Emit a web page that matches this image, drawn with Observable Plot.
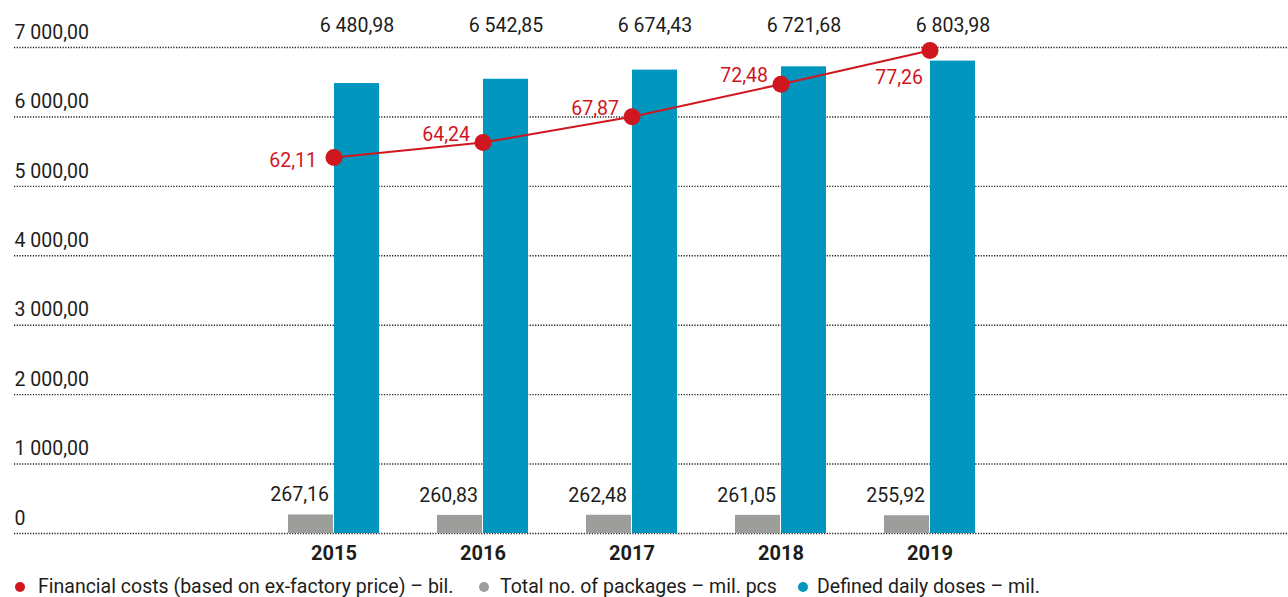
<!DOCTYPE html>
<html>
<head>
<meta charset="utf-8">
<script src="https://cdn.jsdelivr.net/npm/d3@7"></script>
<script src="https://cdn.jsdelivr.net/npm/@observablehq/plot@0.6"></script>
<style>
  html, body { margin: 0; padding: 0; background: #fff; }
  body { width: 1288px; height: 597px; overflow: hidden; font-family: Roboto, "Noto Sans", sans-serif; color: #1d1d1b; }
  #chart svg { display: block; }
  #legend { position: relative; height: 25px; margin-top: 2px; font-size: 19.5px; white-space: nowrap; }
  #legend .item { position: absolute; top: 0; height: 25px; display: flex; align-items: center; }
  #legend .sw { position: absolute; width: 10px; height: 10px; border-radius: 50%; top: 8px; }
</style>
</head>
<body>
<div id="chart"></div>
<div id="legend"></div>
<script>
// ---- data ----
const years = ["2015", "2016", "2017", "2018", "2019"];
const dailyDoses = [6480.98, 6542.85, 6674.43, 6721.68, 6803.98];   // mil.
const packages = [267.16, 260.83, 262.48, 261.05, 255.92];          // mil. pcs
const costs = [62.11, 64.24, 67.87, 72.48, 77.26];                  // bil.
const yTicks = [0, 1000, 2000, 3000, 4000, 5000, 6000, 7000];
// secondary (cost) axis domain that corresponds to the primary domain [0, 7000]
const costDomain = [8.98, 77.67];
const seriesNames = [
  "Financial costs (based on ex-factory price) – bil.",
  "Total no. of packages – mil. pcs",
  "Defined daily doses – mil."
];

const RED = "#d0161e", GRAY = "#9d9d9c", BLUE = "#0096be", INK = "#1d1d1b";

const rows = years.map((year, i) => ({year, ddd: dailyDoses[i], packages: packages[i], cost: costs[i], i}));
const costToY = d3.scaleLinear().domain(costDomain).range([0, 7000]);

const loc = d3.formatLocale({decimal: ",", thousands: " ", grouping: [3], currency: ["", ""]});
const fmt2 = loc.format(",.2f");
const tickFmt = d => d === 0 ? "0" : fmt2(d);

const FS = 19.5;
const chart = Plot.plot({
  width: 1288,
  height: 572,
  marginTop: 47,
  marginBottom: 39,
  marginLeft: 14,
  marginRight: 0,
  style: {fontFamily: "Roboto, 'Noto Sans', sans-serif", color: INK, background: "#fff"},
  x: {type: "band", domain: years, range: [228, 1036], padding: 0.3867, axis: null},
  y: {domain: [0, 7000], axis: null},
  marks: [
    Plot.ruleY(yTicks, {y: d => d, stroke: INK, strokeWidth: 1.4, strokeDasharray: "1.2,1.5"}),
    Plot.text(yTicks, {y: d => d, text: tickFmt, frameAnchor: "left", textAnchor: "start", dy: -15, fontSize: FS, fill: INK}),
    Plot.barY(rows, {x: "year", y: "packages", fill: GRAY, insetRight: 46}),
    Plot.barY(rows, {x: "year", y: "ddd", fill: BLUE, insetLeft: 46}),
    Plot.line(rows, {x: "year", y: d => costToY(d.cost), stroke: RED, strokeWidth: 2}),
    Plot.dot(rows, {x: "year", y: d => costToY(d.cost), r: 8.5, fill: RED}),
    // top labels (DDD)
    Plot.text(rows, {x: "year", text: d => fmt2(d.ddd), frameAnchor: "top", lineAnchor: "middle", dy: -22, dx: 23, fontSize: FS, fill: INK}),
    // package labels
    Plot.text(rows, {x: "year", y: "packages", text: d => fmt2(d.packages), textAnchor: "end", dx: -5, dy: -20, fontSize: FS, fill: INK}),
    // cost labels
    Plot.text(rows, {filter: d => d.i === 0, x: "year", y: d => costToY(d.cost), text: d => fmt2(d.cost), textAnchor: "end", dx: -17, dy: 3, fontSize: FS, fill: RED}),
    Plot.text(rows, {filter: d => d.i > 0 && d.i < 4, x: "year", y: d => costToY(d.cost), text: d => fmt2(d.cost), textAnchor: "end", dx: -13, dy: -8, fontSize: FS, fill: RED}),
    Plot.text(rows, {filter: d => d.i === 4, x: "year", y: d => costToY(d.cost), text: d => fmt2(d.cost), textAnchor: "end", dx: -7, dy: 27, fontSize: FS, fill: RED}),
    // year labels
    Plot.text(years, {x: d => d, frameAnchor: "bottom", lineAnchor: "middle", dy: 20, fontSize: 20, fontWeight: "bold", fill: INK})
  ]
});
document.getElementById("chart").appendChild(chart);

const colors = [RED, GRAY, BLUE];
const dotCenters = [20, 484, 803];
const textStarts = [38, 500, 817];
const legend = document.getElementById("legend");
seriesNames.forEach((name, i) => {
  const sw = document.createElement("span");
  sw.className = "sw";
  sw.style.background = colors[i];
  sw.style.left = (dotCenters[i] - 5) + "px";
  legend.appendChild(sw);
  const item = document.createElement("span");
  item.className = "item";
  item.style.left = textStarts[i] + "px";
  item.textContent = name;
  legend.appendChild(item);
});
</script>
</body>
</html>
